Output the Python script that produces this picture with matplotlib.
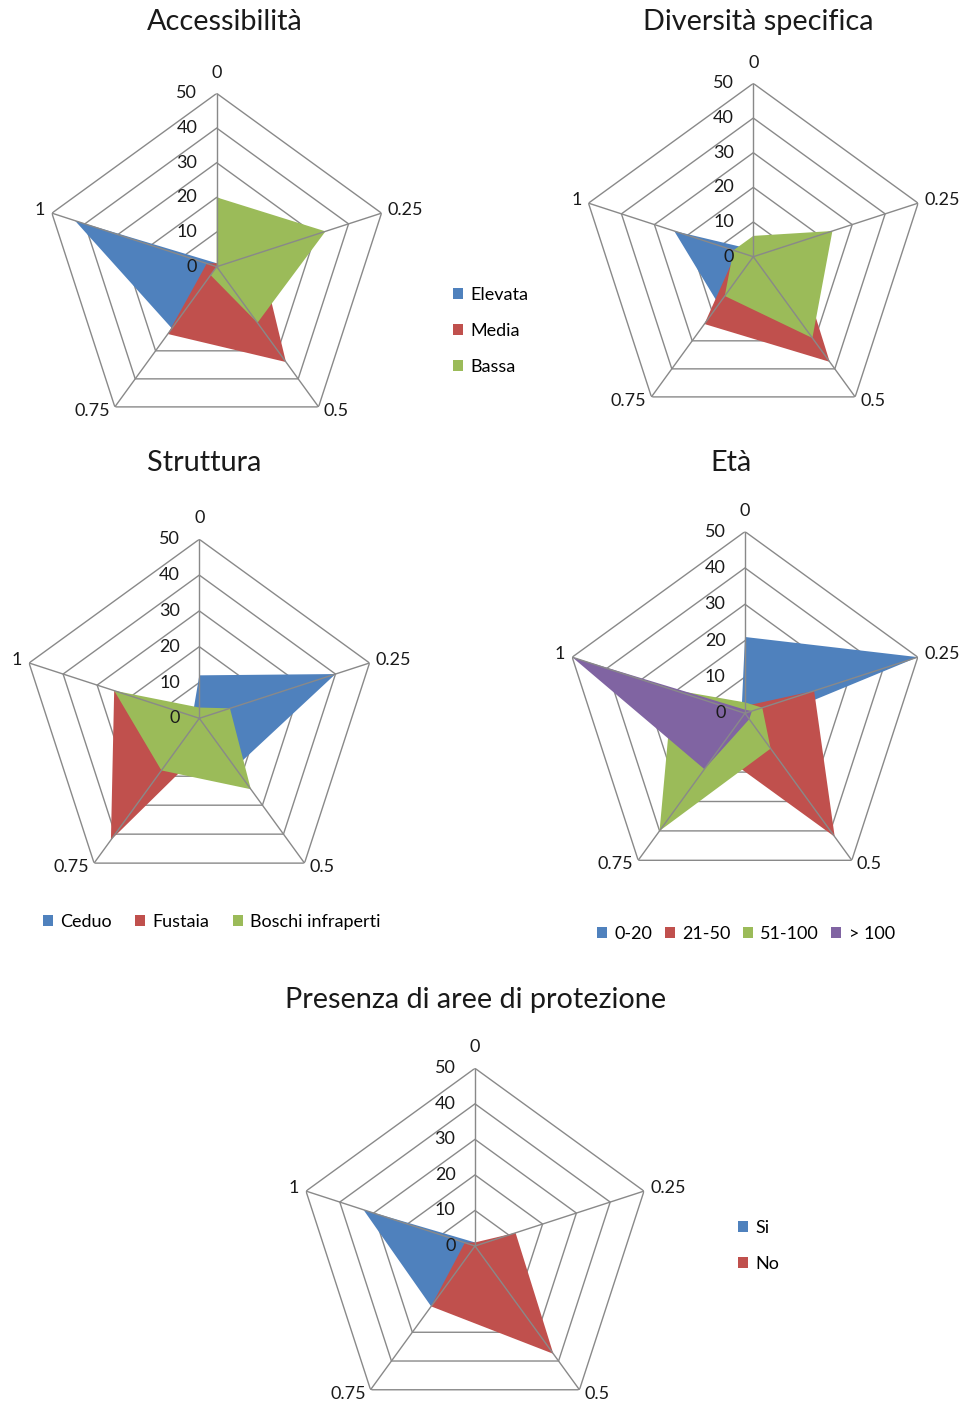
import numpy as np
import matplotlib.pyplot as plt
from matplotlib.patches import Patch

plt.rcParams['font.family'] = ['Lato', 'DejaVu Sans']

W, H = 965, 1407

categorie = ['0', '0.25', '0.5', '0.75', '1']
livelli = [0, 10, 20, 30, 40, 50]

# Accessibilità
acc_nomi = ['Elevata', 'Media', 'Bassa']
acc_elevata = [1, 0, 0, 22, 43]
acc_media = [1, 13, 34, 24, 3]
acc_bassa = [20, 33, 20, 3, 0]

# Diversità specifica
div_elevata = [2, 0, 0, 17, 24]
div_media = [3, 12, 37.5, 24, 5]
div_bassa = [6, 24, 29, 14, 6]

# Struttura
str_nomi = ['Ceduo', 'Fustaia', 'Boschi infraperti']
str_ceduo = [12, 40, 17, 0, 2]
str_fustaia = [1, 1, 7, 42, 25]
str_boschi = [3, 9, 24.5, 18, 25]

# Età
eta_nomi = ['0-20', '21-50', '51-100', '> 100']
eta_0_20 = [21, 50, 4, 0, 1]
eta_21_50 = [2, 20, 42, 13, 1]
eta_51_100 = [3, 5, 12, 40, 21]
eta_oltre_100 = [1, 2, 2, 19, 50]

# Presenza di aree di protezione
prot_nomi = ['Si', 'No']
prot_si = [1, 0, 0, 21, 33]
prot_no = [1, 12, 37.5, 21, 3]

BLU = '#4F81BD'
ROSSO = '#C0504D'
VERDE = '#9BBB59'
VIOLA = '#8064A2'
GRIGIO = '#898989'
TESTO = '#1a1a1a'

FS = 13
FS_TITOLO = 20.8

theta = np.linspace(0, 2 * np.pi, len(categorie), endpoint=False)

# posizione delle etichette di categoria rispetto al vertice (punti)
off_cat = [((0, 15), 'center', 'center'),
           ((4.5, 2), 'left', 'center'),
           ((3.5, -3), 'left', 'center'),
           ((-3.5, -3), 'right', 'center'),
           ((-5, 2), 'right', 'center')]

fig = plt.figure(figsize=(W / 100, H / 100), dpi=100)


def radar(cx, cy, R, serie, colori):
    ax = fig.add_axes([(cx - R) / W, 1 - (cy + R) / H, 2 * R / W, 2 * R / H],
                      projection='polar')
    ax.set_theta_offset(np.pi / 2)
    ax.set_theta_direction(-1)
    ax.set_ylim(0, 50)
    ax.set_xticks([])
    ax.set_yticks([])
    ax.grid(False)
    ax.spines['polar'].set_visible(False)
    ax.patch.set_visible(False)

    for v in livelli[1:]:
        ax.fill(theta, [v] * len(theta), facecolor='none', edgecolor=GRIGIO,
                lw=1.0, zorder=1)
    for s, c in zip(serie, colori):
        ax.fill(theta, s, facecolor=c, edgecolor='none', zorder=2)
    for t in theta:
        ax.plot([t, t], [0, 50], color=GRIGIO, lw=1.0, zorder=3)

    for t, lab, (xy, ha, va) in zip(theta, categorie, off_cat):
        ax.annotate(lab, xy=(t, 50), xytext=xy, textcoords='offset points',
                    ha=ha, va=va, fontsize=FS, color=TESTO, annotation_clip=False)
    for v in livelli:
        ax.annotate(str(v), xy=(0, v), xytext=(-14, 0), textcoords='offset points',
                    ha='right', va='center', fontsize=FS, color=TESTO,
                    annotation_clip=False, zorder=5)
    return ax


def titolo(x, y, testo):
    fig.text(x / W, 1 - y / H, testo, ha='center', va='center',
             fontsize=FS_TITOLO, color=TESTO)


def legenda(x, y, nomi, colori, ncol=1, **kw):
    maniglie = [Patch(facecolor=c, edgecolor='none') for c in colori]
    fig.legend(maniglie, nomi, loc='center left', bbox_to_anchor=(x / W, 1 - y / H),
               ncol=ncol, frameon=False, fontsize=FS, handlelength=0.55,
               handleheight=0.55, handletextpad=0.4, borderpad=0, borderaxespad=0,
               **kw)


radar(216.7, 266.7, 173.3, [acc_elevata, acc_media, acc_bassa], [BLU, ROSSO, VERDE])
titolo(225, 22, 'Accessibilità')
legenda(453, 331, acc_nomi, [BLU, ROSSO, VERDE], labelspacing=1.1)

radar(753.3, 256.7, 173.3, [div_elevata, div_media, div_bassa], [BLU, ROSSO, VERDE])
titolo(758, 22, 'Diversità specifica')

radar(199.3, 718.3, 179, [str_ceduo, str_fustaia, str_boschi], [BLU, ROSSO, VERDE])
titolo(204, 463, 'Struttura')
legenda(43, 922, str_nomi, [BLU, ROSSO, VERDE], ncol=3, columnspacing=1.3)

radar(745, 713.3, 181.7, [eta_0_20, eta_21_50, eta_51_100, eta_oltre_100],
      [BLU, ROSSO, VERDE, VIOLA])
titolo(731, 463, 'Età')
legenda(597, 934, eta_nomi, [BLU, ROSSO, VERDE, VIOLA], ncol=4, columnspacing=0.7)

radar(475, 1246, 177.7, [prot_si, prot_no], [BLU, ROSSO])
titolo(476, 1000, 'Presenza di aree di protezione')
legenda(738, 1246, prot_nomi, [BLU, ROSSO], labelspacing=1.1)

fig.savefig('out.png', dpi=100, facecolor='white')
